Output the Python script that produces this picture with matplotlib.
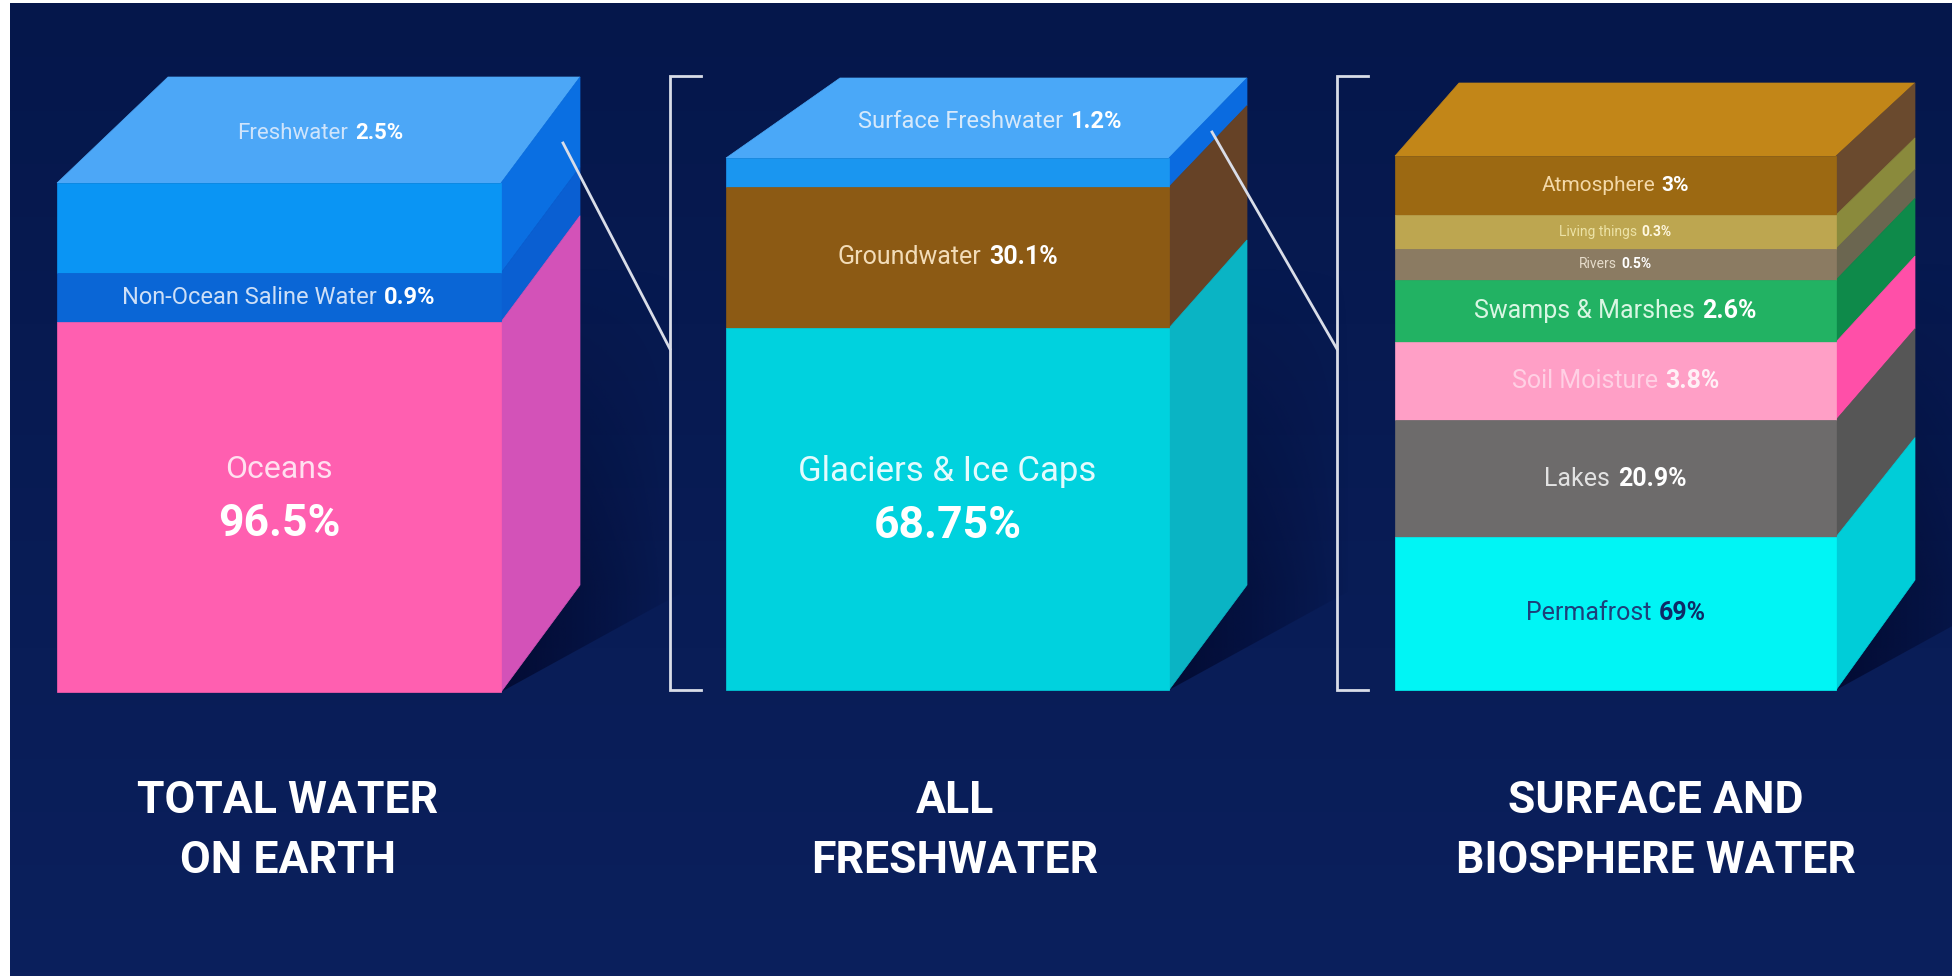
import numpy as np
import matplotlib.pyplot as plt
from matplotlib.patches import Polygon, Rectangle
from matplotlib.colors import LinearSegmentedColormap, to_rgb
from matplotlib.offsetbox import TextArea, HPacker, AnnotationBbox

plt.rcParams['font.family'] = ['Roboto', 'DejaVu Sans']

# --- data -------------------------------------------------------------
total_names = ["Freshwater", "Non-Ocean Saline Water", "Oceans"]
total_values = [2.5, 0.9, 96.5]

fresh_names = ["Surface Freshwater", "Groundwater", "Glaciers & Ice Caps"]
fresh_values = [1.2, 30.1, 68.75]

surface_names = ["Atmosphere", "Living things", "Rivers", "Swamps & Marshes",
                 "Soil Moisture", "Lakes", "Permafrost"]
surface_values = [3, 0.3, 0.5, 2.6, 3.8, 20.9, 69]

titles = [("TOTAL WATER", "ON EARTH"), ("ALL", "FRESHWATER"),
          ("SURFACE AND", "BIOSPHERE WATER")]

# --- layout / styling ---------------------------------------------------
W, H = 1952, 976
BG_TOP, BG_BOT = "#05174b", "#0b205d"
SHADOW = "#010628"
LINE = "#d9dde8"

# front face (x0, x1, top), back edge (x0, x1, top, bottom), layer heights in px
blocks = [
    dict(front=(57, 501, 183), back=(168, 580, 77, 585),
         heights=[90, 49, 370],
         top="#4ca7f7",
         fronts=["#0a95f4", "#0a66d6", "#ff5fb0"],
         sides=["#0a6fe2", "#0a5fd2", "#d352b8"],
         sizes=[16, 17, 23],
         name_cols=["#cfe4fb", "#cddff7", "#ffe0f0"],
         val_cols=["white", "white", "white"],
         shadow=(180, 320)),
    dict(front=(726, 1169, 158), back=(840, 1247, 78, 585),
         heights=[29, 141, 362],
         top="#4aa8f8",
         fronts=["#1a96f0", "#8c5a14", "#00d2de"],
         sides=["#0a6be0", "#664226", "#0ab4c4"],
         sizes=[17, 18, 25],
         name_cols=["#d6e9fb", "#f2dcb8", "#e4fbfd"],
         val_cols=["white", "white", "white"],
         shadow=(180, 320)),
    dict(front=(1395, 1836, 156), back=(1459, 1915, 83, 580),
         heights=[59, 34, 31, 62, 78, 117, 153],
         top="#c28618",
         fronts=["#9c6912", "#bda650", "#8b7b62", "#22b263",
                 "#ff9fc6", "#6d6b6b", "#00f5f5"],
         sides=["#6a4a2e", "#8a8a3c", "#6b6650", "#0e8a4a",
                "#ff4fa8", "#565656", "#00cdd8"],
         sizes=[15, 10, 10, 18, 18, 18, 18],
         name_cols=["#f3d8a8", "#ece2a6", "#e6dccb", "#d9f6e3",
                    "#ffd0e4", "#e2e2e2", "#1d3f7a"],
         val_cols=["white", "#fff8e0", "white", "white",
                   "#fff0f6", "white", "#0e2a66"],
         shadow=(180, 320)),
]
title_x = [288, 955, 1656]


def fmt(v):
	return f"{v:g}%"


def pair_label(ax, x, y, name, value, size, name_col, val_col):
	"""name in regular weight followed by the value in bold, centred on (x, y)"""
	parts = [TextArea(name, textprops=dict(color=name_col, fontsize=size)),
	         TextArea(value, textprops=dict(color=val_col, fontsize=size, fontweight="bold"))]
	box = HPacker(children=parts, align="baseline", pad=0, sep=size * 0.3)
	ab = AnnotationBbox(box, (x, y), frameon=False, box_alignment=(0.5, 0.5),
	                    zorder=6, annotation_clip=False)
	ax.add_artist(ab)


def draw_shadow(ax, x1, yb, bx1, byb, L, Hs):
	"""soft shadow to the right of the block, hard along the floor line"""
	xs = np.linspace(x1, x1 + L, 200)
	ys = np.linspace(byb - Hs, yb, 200)
	X, Y = np.meshgrid(xs, ys)
	fx = np.clip(1 - (X - x1) / L, 0, 1) ** 0.8
	fy = np.clip(1 - (byb - Y) / Hs, 0, 1)
	rgba = np.zeros((200, 200, 4))
	rgba[..., :3] = to_rgb(SHADOW)
	rgba[..., 3] = 0.75 * fx * fy
	im = ax.imshow(rgba, extent=(x1, x1 + L, yb, byb - Hs), origin="upper",
	               aspect="auto", interpolation="bilinear", zorder=1)
	clip = Polygon([(x1, yb), (x1 + L, yb - 0.55 * L), (x1 + L, byb - Hs), (x1, byb - Hs)],
	               closed=True, transform=ax.transData, fc="none", lw=0)
	ax.add_patch(clip)
	im.set_clip_path(clip)


def draw_block(ax, b):
	x0, x1, yt = b["front"]
	bx0, bx1, byt, byb = b["back"]
	edges = yt + np.concatenate([[0], np.cumsum(b["heights"])])
	yb = edges[-1]

	def back_y(y):
		return byt + (y - yt) / (yb - yt) * (byb - byt)

	L, Hs = b["shadow"]
	draw_shadow(ax, x1, yb, bx1, byb, L, Hs)

	ax.add_patch(Polygon([(x0, yt), (bx0, byt), (bx1, byt), (x1, yt)],
	                     closed=True, fc=b["top"], ec=b["top"], lw=0.5, zorder=2))
	for i in range(len(b["heights"])):
		ya, yc = edges[i], edges[i + 1]
		ax.add_patch(Rectangle((x0, ya), x1 - x0, yc - ya, fc=b["fronts"][i],
		                       ec=b["fronts"][i], lw=0.5, zorder=3))
		ax.add_patch(Polygon([(x1, ya), (bx1, back_y(ya)), (bx1, back_y(yc)), (x1, yc)],
		                     closed=True, fc=b["sides"][i], ec=b["sides"][i], lw=0.5, zorder=2))
	return edges


fig = plt.figure(figsize=(W / 100, H / 100), dpi=100)
ax = fig.add_axes([0, 0, 1, 1])

cmap = LinearSegmentedColormap.from_list("bg", [BG_TOP, BG_BOT])
ax.imshow(np.linspace(0, 1, 256).reshape(-1, 1), cmap=cmap, aspect="auto",
          extent=(0, W, H, 0), zorder=0)
ax.add_patch(Rectangle((0, 0), 10, H, color="white", lw=0, zorder=9))
ax.add_patch(Rectangle((0, 0), W, 3, color="white", lw=0, zorder=9))

series = [(total_names, total_values), (fresh_names, fresh_values),
          (surface_names, surface_values)]

for b, (names, values) in zip(blocks, series):
	edges = draw_block(ax, b)
	x0, x1, yt = b["front"]
	bx0, bx1, byt, byb = b["back"]
	xc = (x0 + x1) / 2
	for i, (n, v) in enumerate(zip(names, values)):
		size = b["sizes"][i]
		ymid = (edges[i] + edges[i + 1]) / 2
		if b is not blocks[2] and i == 0:
			# first layer of the first two blocks is labelled on the lid
			pair_label(ax, (x0 + x1 + bx0 + bx1) / 4 - 6, (yt + byt) / 2 + 3, n, fmt(v),
			           size, b["name_cols"][i], b["val_cols"][i])
		elif b is not blocks[2] and i == len(names) - 1:
			# big bottom layer: name over a large bold value
			ax.text(xc, ymid - 38, n, ha="center", va="center", fontsize=size,
			        color=b["name_cols"][i], zorder=6)
			ax.text(xc, ymid + 17, fmt(v), ha="center", va="center", fontsize=32,
			        fontweight="bold", color=b["val_cols"][i], zorder=6)
		else:
			pair_label(ax, xc, ymid, n, fmt(v), size, b["name_cols"][i], b["val_cols"][i])

# zoom brackets and the lines that lead into them
for bx, (lx0, ly0) in zip([670, 1337], [(563, 143), (1212, 132)]):
	ax.plot([bx + 31, bx, bx, bx + 31], [76, 76, 690, 690], color=LINE, lw=2,
	        solid_joinstyle="miter", zorder=7)
	ax.plot([lx0, bx], [ly0, 349], color=LINE, lw=2, zorder=7)

for x, (l1, l2) in zip(title_x, titles):
	ax.text(x, 801, l1, ha="center", va="center", fontsize=32, fontweight="bold",
	        color="white", zorder=6)
	ax.text(x, 861, l2, ha="center", va="center", fontsize=32, fontweight="bold",
	        color="white", zorder=6)

ax.set_xlim(0, W)
ax.set_ylim(H, 0)
ax.axis("off")
fig.savefig("out.png", dpi=100, facecolor=BG_TOP)
